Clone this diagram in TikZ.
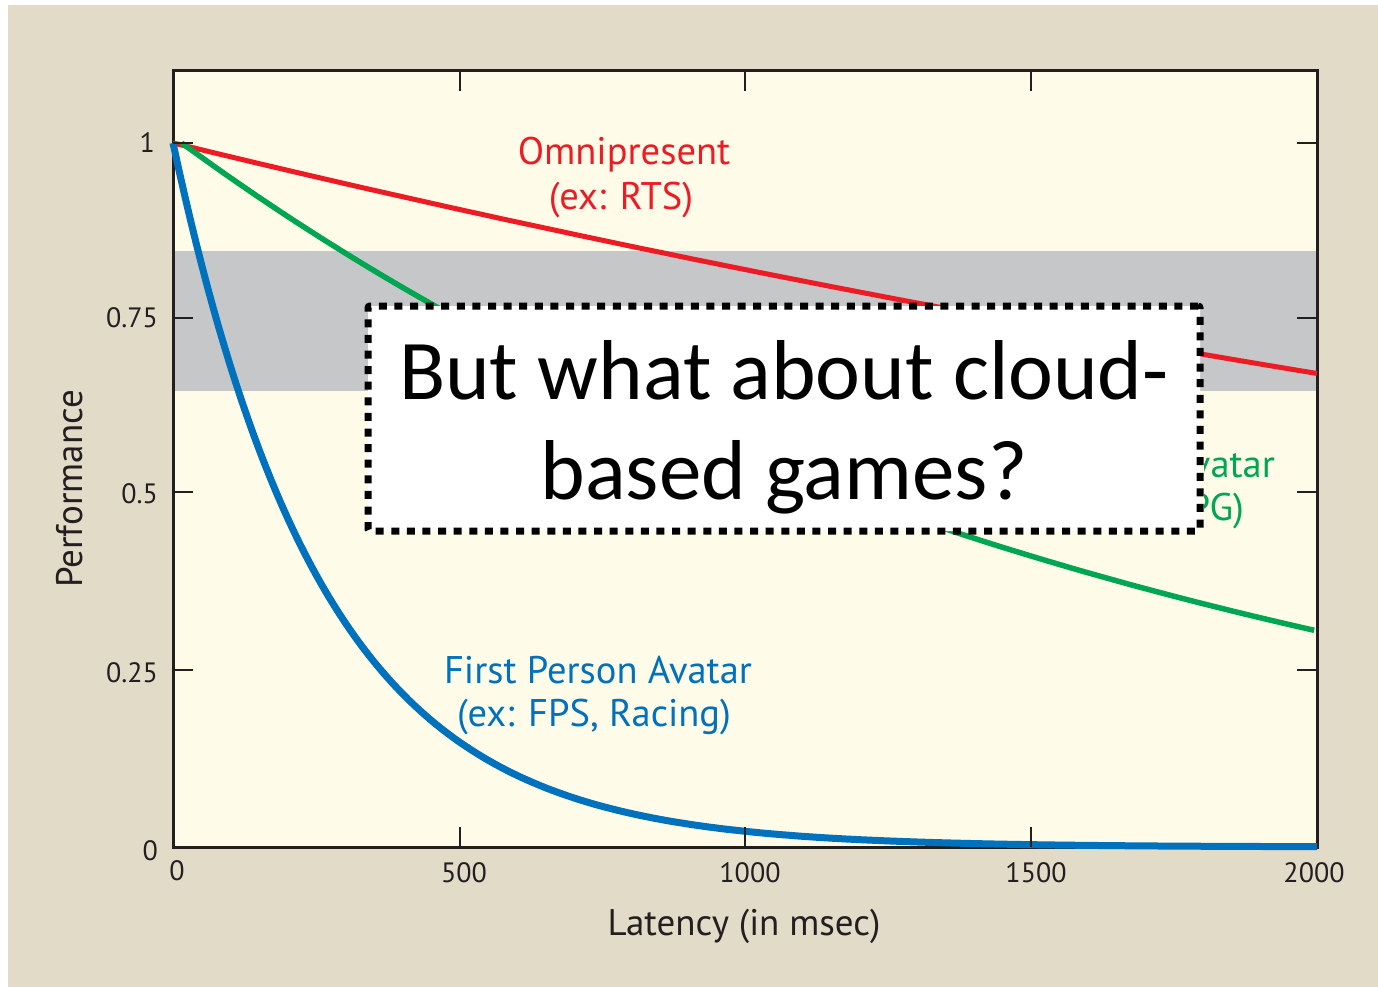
\documentclass[tikz,border=0pt]{standalone}
\usepackage{fontspec}
\setmainfont{PT Sans}
\newfontfamily\slidefont{Carlito}

\definecolor{paper}{RGB}{226,219,200}
\definecolor{plotbg}{RGB}{254,251,233}
\definecolor{band}{RGB}{198,199,201}
\definecolor{curvered}{RGB}{237,28,36}
\definecolor{curvegreen}{RGB}{0,166,81}
\definecolor{curveblue}{RGB}{0,113,188}
\definecolor{ink}{RGB}{35,31,32}

\tikzset{
  frame/.style={draw=ink, line width=3pt},
  tickmark/.style={draw=ink, line width=2.5pt},
  ticklabel/.style={text=ink, inner sep=0pt, font=\fontsize{28}{30}\selectfont},
  axislabel/.style={text=ink, inner sep=0pt, font=\fontsize{37}{40}\selectfont},
  curvelabel/.style={inner sep=0pt, font=\fontsize{38.5}{43}\selectfont},
  curve/.style={line width=#1, line join=round},
  slidebox/.style={draw=black, fill=white, line width=7pt,
    dash pattern=on 8pt off 7.6pt, rounded corners=2pt,
    minimum width=832pt, minimum height=225pt, inner sep=0pt},
  slidetext/.style={inner sep=0pt, align=center,
    font=\slidefont\fontsize{85}{100}\selectfont}
}

\begin{document}
\begin{tikzpicture}[x=1pt, y=-1pt]
  \useasboundingbox (0,0) rectangle (1378,987);
  % page background
  \fill[white] (0,0) rectangle (1378,987);
  \fill[paper] (8,5) rectangle (1378,987);

  % plot area and the shaded band
  \fill[plotbg] (173,71) rectangle (1317,847);
  \fill[band] (173,251) rectangle (1317,391);
  \draw[frame] (173,71) rectangle (1317,847);

  % x = 173 + 0.572 t   (t in msec),   y = 847 - 704 p   (p = performance)
  \draw[curve=5pt, curvered] plot[domain=0:2000, samples=60]
    ({173+0.572*\x}, {847-704*exp(-0.000199*\x)});
  \draw[curve=5.5pt, curvegreen] plot[domain=15:1995, samples=80]
    ({173+0.572*\x}, {847-704*exp(-0.0006*(\x-15))});
  \draw[curve=7pt, curveblue] plot[domain=0:2000, samples=200]
    ({173+0.572*\x}, {847-704*exp(-0.0038*\x)});

  % tick marks
  \foreach \tx in {460,745,1031}{
    \draw[tickmark] (\tx,847) -- (\tx,827);
    \draw[tickmark] (\tx,71) -- (\tx,91);
  }
  \foreach \ty in {143,318,492,670}{
    \draw[tickmark] (173,\ty) -- (193,\ty);
    \draw[tickmark] (1317,\ty) -- (1297,\ty);
  }

  % tick labels
  \node[ticklabel, anchor=base east] (y0)   at (158,860) {0};
  \node[ticklabel, anchor=base east] (y25)  at (158,682) {0.25};
  \node[ticklabel, anchor=base east] (y50)  at (158,503) {0.5};
  \node[ticklabel, anchor=base east] (y75)  at (158,327) {0.75};
  \node[ticklabel, anchor=base east] (y100) at (155,153) {1};
  \node[ticklabel, anchor=base] (x0)    at (177,880) {0};
  \node[ticklabel, anchor=base] (x500)  at (464,882) {500};
  \node[ticklabel, anchor=base] (x1000) at (750,882) {1000};
  \node[ticklabel, anchor=base] (x1500) at (1036,882) {1500};
  \node[ticklabel, anchor=base] (x2000) at (1314,882) {2000};

  % axis titles
  \node[axislabel, anchor=base] (xtitle) at (744,935) {Latency (in msec)};
  \node[axislabel, anchor=base, rotate=90] (ytitle) at (82,489) {Performance};

  % curve labels
  \node[curvelabel, text=curvered, anchor=base] (omni1) at (624,165) {Omnipresent};
  \node[curvelabel, text=curvered, anchor=base] (omni2) at (621,209) {(ex: RTS)};
  \node[curvelabel, text=curveblue, anchor=base] (fpa1) at (598,683) {First Person Avatar};
  \node[curvelabel, text=curveblue, anchor=base] (fpa2) at (594,726) {(ex: FPS, Racing)};
  % the third label sits behind the question box; only its right end shows
  \begin{scope}
    \clip (1204,430) rectangle (1300,540);
    \node[curvelabel, text=curvegreen, anchor=base east] (tpa1) at (1275,477) {Third Person Avatar};
    \node[curvelabel, text=curvegreen, anchor=base east] (tpa2) at (1244,520) {(ex: Sports, RPG)};
  \end{scope}

  % question box
  \node[slidebox] (question) at (784,418.5) {};
  \node[slidetext, yshift=-9pt] (qtext) at (question.center) {But what about cloud-\\based games?};
\end{tikzpicture}
\end{document}
